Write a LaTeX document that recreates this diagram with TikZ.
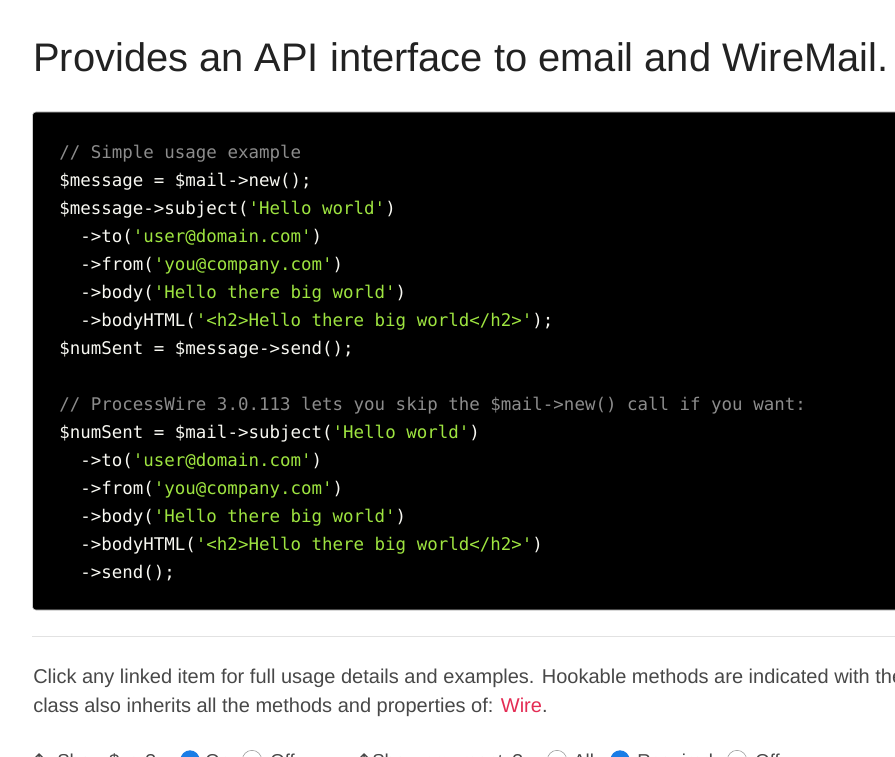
\documentclass[tikz,border=0pt]{standalone}
\usepackage{fontspec}
\setmainfont{Liberation Sans}
\setmonofont{DejaVu Sans Mono}
\newfontfamily\symfont{DejaVu Sans}

\definecolor{titletext}{RGB}{34,34,34}
\definecolor{bodytext}{RGB}{72,72,72}
\definecolor{wirered}{RGB}{228,44,84}
\definecolor{rulegray}{RGB}{226,226,226}
\definecolor{boxgray}{RGB}{205,205,205}
\definecolor{codewhite}{RGB}{248,248,242}
\definecolor{codegray}{RGB}{140,140,140}
\definecolor{codegreen}{RGB}{158,228,64}
\definecolor{radioblue}{RGB}{26,125,230}
\definecolor{radiogray}{RGB}{150,150,150}

\newcommand{\codestr}[1]{\textcolor{codegreen}{#1}}

\tikzset{
  txt/.style={inner sep=0pt, anchor=base west},
  codeline/.style={txt, text=codewhite, font=\ttfamily\fontsize{13.1}{15}\selectfont},
  codecomment/.style={codeline, text=codegray},
  radiooff/.style={circle, draw=radiogray, fill=white, minimum size=14.5pt, inner sep=0pt},
  radioon/.style={circle, fill=radioblue, minimum size=14.5pt, inner sep=0pt},
  bottomtxt/.style={txt, text=bodytext, font=\fontsize{14}{16}\selectfont}
}

\begin{document}
\begin{tikzpicture}[x=0.75pt, y=-0.75pt]
  \useasboundingbox (0,0) rectangle (895,756);
  \clip (0,0) rectangle (895,756);
  \fill[white] (0,0) rectangle (895,756);

  % heading
  \node[txt, text=titletext, font=\fontsize{29.9}{34}\selectfont] (title) at (33,72)
    {Provides an API interface to email and WireMail.};

  % code box
  \draw[boxgray, fill=black, rounded corners=2.5pt] (32.5,112) rectangle (920,610);

  \node[codecomment] (c0) at (59,158) {// Simple usage example};
  \node[codeline] (c1) at (59,186) {\$message = \$mail->new();};
  \node[codeline] (c2) at (59,214) {\$message->subject(\codestr{'Hello world'})};
  \node[codeline] (c3) at (80,242) {->to(\codestr{'user@domain.com'})};
  \node[codeline] (c4) at (80,270) {->from(\codestr{'you@company.com'})};
  \node[codeline] (c5) at (80,298) {->body(\codestr{'Hello there big world'})};
  \node[codeline] (c6) at (80,326) {->bodyHTML(\codestr{'<h2>Hello there big world</h2>'});};
  \node[codeline] (c7) at (59,354) {\$numSent = \$message->send();};

  \node[codecomment] (c9) at (59,410) {// ProcessWire 3.0.113 lets you skip the \$mail->new() call if you want:};
  \node[codeline] (c10) at (59,438) {\$numSent = \$mail->subject(\codestr{'Hello world'})};
  \node[codeline] (c11) at (80,466) {->to(\codestr{'user@domain.com'})};
  \node[codeline] (c12) at (80,494) {->from(\codestr{'you@company.com'})};
  \node[codeline] (c13) at (80,522) {->body(\codestr{'Hello there big world'})};
  \node[codeline] (c14) at (80,550) {->bodyHTML(\codestr{'<h2>Hello there big world</h2>'})};
  \node[codeline] (c15) at (80,578) {->send();};

  % rule
  \draw[rulegray, line width=0.75pt] (32,636) -- (895,636);

  % description
  \node[txt, text=bodytext, font=\fontsize{15}{18}\selectfont] (desc1) at (33,683)
    {Click any linked item for full usage details and examples. Hookable methods are indicated with the};
  \node[txt, text=bodytext, font=\fontsize{15}{18}\selectfont] (desc2) at (33,712)
    {class also inherits all the methods and properties of: \textcolor{wirered}{Wire}.};

  % toggles (cut off)
  \node[bottomtxt, font=\symfont\fontsize{14}{16}\selectfont] (iconA) at (31,767.5) {↕};
  \node[bottomtxt] (showvar) at (57,767.5) {Show \$var?};
  \node[radioon] (varon) at (190,760) {};
  \node[bottomtxt] (varontxt) at (205,767.5) {On};
  \node[radiooff] (varoff) at (252,760) {};
  \node[bottomtxt] (varofftxt) at (270,767.5) {Off};
  \node[bottomtxt, font=\symfont\fontsize{14}{16}\selectfont] (iconB) at (356,767.5) {↕};
  \node[bottomtxt] (showargs) at (372,767.5) {Show arguments?};
  \node[radiooff] (argall) at (557,760) {};
  \node[bottomtxt] (argalltxt) at (573,767.5) {All};
  \node[radioon] (argreq) at (620,760) {};
  \node[bottomtxt] (argreqtxt) at (637,767.5) {Required};
  \node[radiooff] (argoff) at (737,760) {};
  \node[bottomtxt] (argofftxt) at (755,767.5) {Off};
\end{tikzpicture}
\end{document}
